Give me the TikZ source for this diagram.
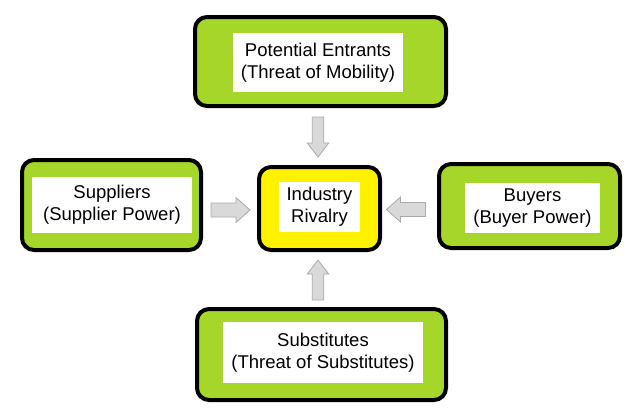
\documentclass[tikz,border=0pt]{standalone}
\usepackage{fontspec}
\setmainfont{Liberation Sans}
\definecolor{boxgreen}{RGB}{166,214,41}
\definecolor{boxyellow}{RGB}{255,242,0}
\definecolor{arrowfill}{RGB}{217,217,217}
\definecolor{arrowline}{RGB}{170,170,170}
\tikzset{
  outerbox/.style={draw=black, line width=4pt, rounded corners=12pt, fill=boxgreen, inner sep=0pt},
  innerbox/.style={fill=white, inner sep=0pt, align=center, font=\fontsize{18.5}{22}\selectfont},
  blockarrow/.style={draw=arrowline, fill=arrowfill, line width=0.8pt, line join=miter}
}
\begin{document}
\begin{tikzpicture}[x=1pt,y=-1pt]
\useasboundingbox[fill=white] (0,0) rectangle (640,418);
% outer boxes
\node[outerbox, minimum width=251pt, minimum height=89pt] (pe) at (320.5,61.5) {};
\node[outerbox, minimum width=179pt, minimum height=90pt] (sup) at (111.5,205) {};
\node[outerbox, fill=boxyellow, minimum width=121pt, minimum height=83pt] (ind) at (319.5,208.5) {};
\node[outerbox, minimum width=181pt, minimum height=84pt] (buy) at (529.5,206) {};
\node[outerbox, minimum width=249pt, minimum height=91pt] (sub) at (321.5,354.5) {};
% inner white panels with text
\node[innerbox, minimum width=170pt, minimum height=59pt] (pet) at (318,62.5) {Potential Entrants\\(Threat of Mobility)};
\node[innerbox, minimum width=160pt, minimum height=56pt] (supt) at (112,205) {Suppliers\\(Supplier Power)};
\node[innerbox, minimum width=81pt, minimum height=50pt] (indt) at (319.5,207) {Industry\\Rivalry};
\node[innerbox, minimum width=135pt, minimum height=50pt] (buyt) at (532.5,208) {Buyers\\(Buyer Power)};
\node[innerbox, minimum width=200pt, minimum height=61pt] (subt) at (323,352.5) {Substitutes\\(Threat of Substitutes)};
% block arrow centres
\coordinate (a1) at (230.5,210);
\coordinate (a2) at (406,209.5);
\coordinate (a3) at (318,137);
\coordinate (a4) at (318,280);
% horizontal block arrows
\draw[blockarrow, shift={(a1)}, rotate=0]
  (-19.5,-7) -- (5.5,-7) -- (5.5,-12.5) -- (19.5,0) -- (5.5,12.5) -- (5.5,7) -- (-19.5,7) -- cycle;
\draw[blockarrow, shift={(a2)}, rotate=180]
  (-19.5,-7) -- (5.5,-7) -- (5.5,-12.5) -- (19.5,0) -- (5.5,12.5) -- (5.5,7) -- (-19.5,7) -- cycle;
% vertical block arrows
\draw[blockarrow, shift={(a3)}, rotate=-90]
  (-20,-5.75) -- (6,-5.75) -- (6,-10.75) -- (20,0) -- (6,10.75) -- (6,5.75) -- (-20,5.75) -- cycle;
\draw[blockarrow, shift={(a4)}, rotate=90]
  (-20,-5.75) -- (6,-5.75) -- (6,-10.75) -- (20,0) -- (6,10.75) -- (6,5.75) -- (-20,5.75) -- cycle;
\end{tikzpicture}
\end{document}
